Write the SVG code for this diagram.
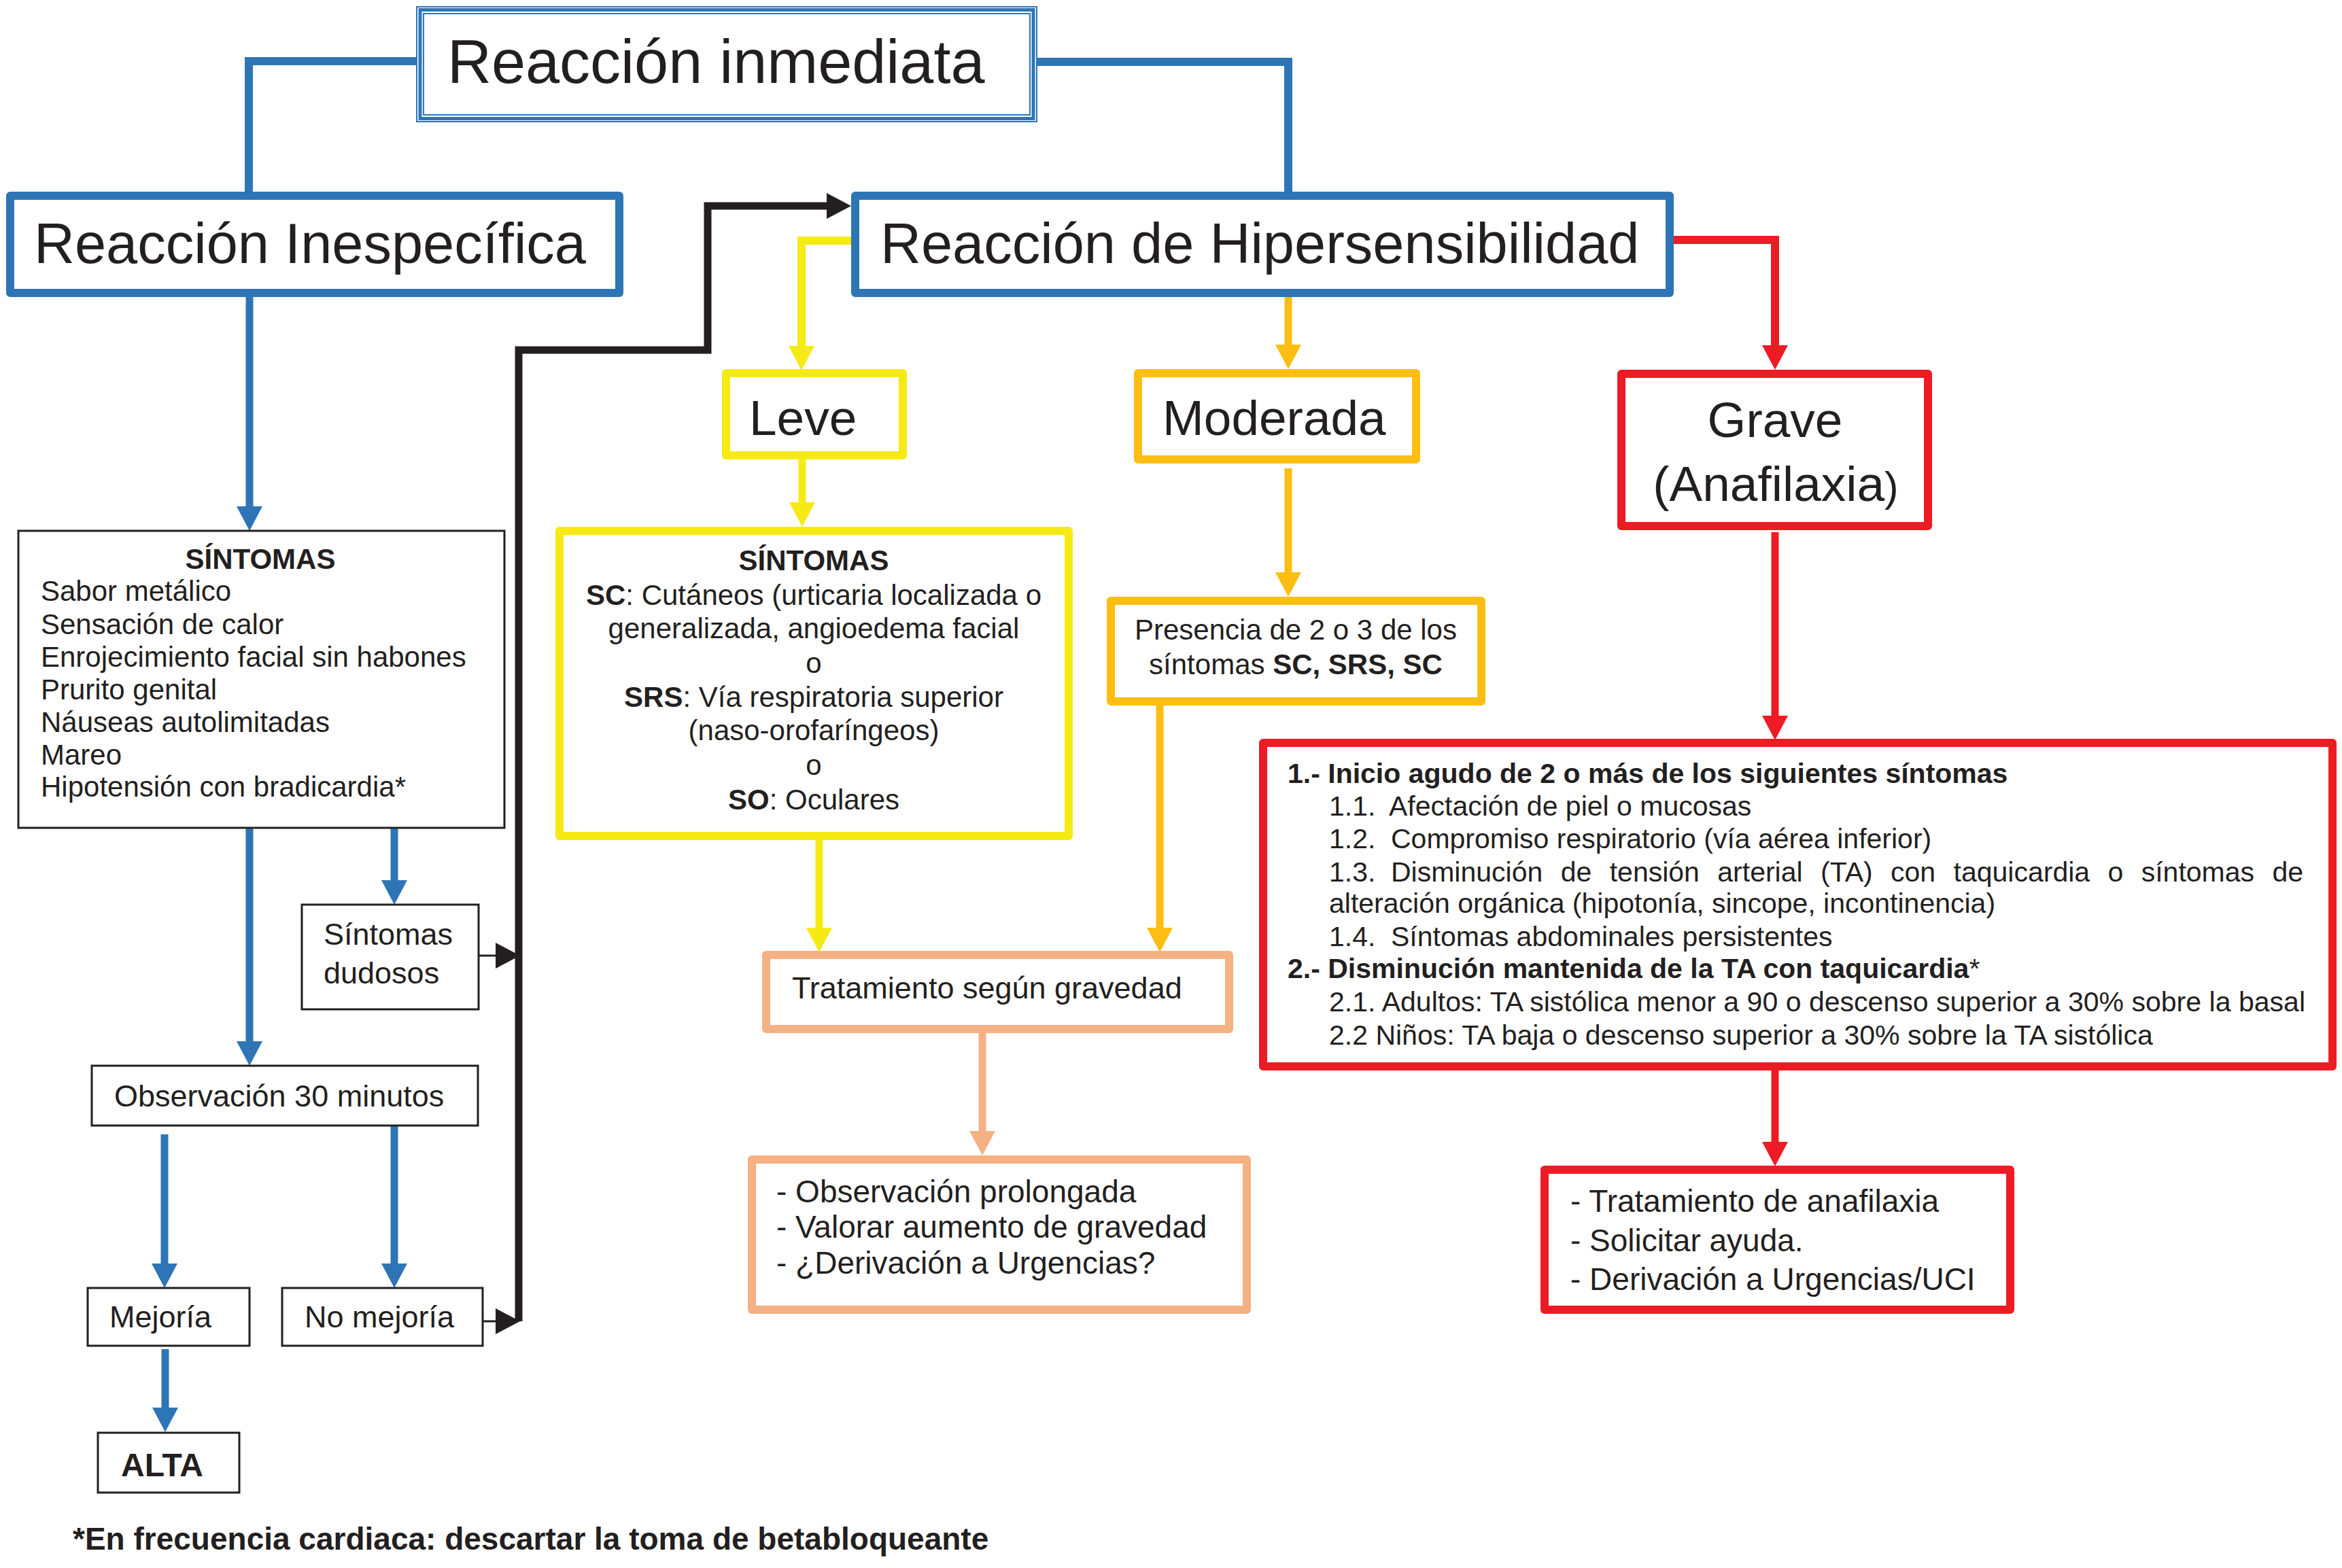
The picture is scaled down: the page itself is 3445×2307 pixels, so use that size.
<svg xmlns="http://www.w3.org/2000/svg" width="3445" height="2307" viewBox="0 0 3445 2307">
<style>
text{font-family:"Liberation Sans",Arial,Helvetica,sans-serif;fill:#231f20}
.b{font-weight:bold}
.box{fill:#fff;stroke-linejoin:round}
.blue{stroke:#2e75b6}
.yel{stroke:#f6ea14}
.amb{stroke:#fdbe14}
.sal{stroke:#f4b183}
.red{stroke:#ed1c24}
.thin{fill:#fff;stroke:#231f20;stroke-width:3}
.c{fill:none;stroke-linejoin:miter}
.t42{font-size:42px}
.t45{font-size:45px}
.t46{font-size:46px}
.t41{font-size:41px}
</style>
<defs>
<marker id="aBlue" markerUnits="userSpaceOnUse" markerWidth="40" markerHeight="40" refX="16" refY="19" orient="auto"><path d="M0,0 L36,19 L0,38 z" fill="#2e75b6"/></marker>
<marker id="aYel" markerUnits="userSpaceOnUse" markerWidth="40" markerHeight="40" refX="16" refY="19" orient="auto"><path d="M0,0 L36,19 L0,38 z" fill="#f6ea14"/></marker>
<marker id="aAmb" markerUnits="userSpaceOnUse" markerWidth="40" markerHeight="40" refX="16" refY="19" orient="auto"><path d="M0,0 L36,19 L0,38 z" fill="#fdbe14"/></marker>
<marker id="aSal" markerUnits="userSpaceOnUse" markerWidth="40" markerHeight="40" refX="16" refY="19" orient="auto"><path d="M0,0 L36,19 L0,38 z" fill="#f4b183"/></marker>
<marker id="aRed" markerUnits="userSpaceOnUse" markerWidth="40" markerHeight="40" refX="16" refY="19" orient="auto"><path d="M0,0 L36,19 L0,38 z" fill="#ed1c24"/></marker>
<marker id="aBlk" markerUnits="userSpaceOnUse" markerWidth="40" markerHeight="40" refX="16" refY="19" orient="auto"><path d="M0,0 L36,19 L0,38 z" fill="#231f20"/></marker>
</defs>
<rect width="3445" height="2307" fill="#fff"/>

<g id="connectors">
  <polyline class="c blue" stroke-width="12" points="612,90 366,90 366,282"/>
  <polyline class="c blue" stroke-width="12" points="1526,91 1895,91 1895,282"/>
  <line class="c blue" stroke-width="11" x1="367" y1="437" x2="367" y2="761" marker-end="url(#aBlue)"/>
  <line class="c blue" stroke-width="11" x1="367" y1="1218" x2="367" y2="1548" marker-end="url(#aBlue)"/>
  <line class="c blue" stroke-width="11" x1="580" y1="1218" x2="580" y2="1311" marker-end="url(#aBlue)"/>
  <line class="c blue" stroke-width="11" x1="242" y1="1669" x2="242" y2="1875" marker-end="url(#aBlue)"/>
  <line class="c blue" stroke-width="11" x1="580" y1="1656" x2="580" y2="1875" marker-end="url(#aBlue)"/>
  <line class="c blue" stroke-width="11" x1="243" y1="1985" x2="243" y2="2087" marker-end="url(#aBlue)"/>
  <polyline class="c" stroke="#231f20" stroke-width="11" points="763,1944 763,515 1041,515 1041,303 1232,303" marker-end="url(#aBlk)"/>
  <line class="c" stroke="#231f20" stroke-width="3" x1="704" y1="1406" x2="745" y2="1406" marker-end="url(#aBlk)"/>
  <line class="c" stroke="#231f20" stroke-width="3" x1="710" y1="1944" x2="745" y2="1944" marker-end="url(#aBlk)"/>
  <polyline class="c yel" stroke-width="12" points="1252,354 1179,354 1179,525" marker-end="url(#aYel)"/>
  <line class="c amb" stroke-width="11" x1="1895" y1="437" x2="1895" y2="523" marker-end="url(#aAmb)"/>
  <polyline class="c red" stroke-width="12" points="2462,353 2611,353 2611,524" marker-end="url(#aRed)"/>
  <line class="c yel" stroke-width="11" x1="1180" y1="676" x2="1180" y2="755" marker-end="url(#aYel)"/>
  <line class="c amb" stroke-width="11" x1="1895" y1="689" x2="1895" y2="858" marker-end="url(#aAmb)"/>
  <line class="c yel" stroke-width="11" x1="1205" y1="1236" x2="1205" y2="1381" marker-end="url(#aYel)"/>
  <line class="c amb" stroke-width="11" x1="1706" y1="1038" x2="1706" y2="1381" marker-end="url(#aAmb)"/>
  <line class="c sal" stroke-width="11" x1="1445" y1="1520" x2="1445" y2="1680" marker-end="url(#aSal)"/>
  <line class="c red" stroke-width="11" x1="2611" y1="783" x2="2611" y2="1069" marker-end="url(#aRed)"/>
  <line class="c red" stroke-width="11" x1="2611" y1="1575" x2="2611" y2="1696" marker-end="url(#aRed)"/>
</g>

<g id="reaccion-inmediata">
  <rect x="613" y="10" width="912" height="169" fill="#fff" stroke="#2e75b6" stroke-width="2"/>
  <rect x="618" y="14.5" width="902" height="160" fill="none" stroke="#2e75b6" stroke-width="5"/>
  <rect x="623" y="20" width="892" height="149" fill="none" stroke="#2e75b6" stroke-width="2"/>
  <text x="658" y="122" font-size="90">Reacción inmediata</text>
</g>

<g id="reaccion-inespecifica">
  <rect class="box blue" stroke-width="12" x="15" y="288" width="896" height="143"/>
  <text x="50" y="387" font-size="83">Reacción Inespecífica</text>
</g>

<g id="reaccion-hipersensibilidad">
  <rect class="box blue" stroke-width="12" x="1258" y="288" width="1198" height="143"/>
  <text x="1295" y="387" font-size="83">Reacción de Hipersensibilidad</text>
</g>

<g id="sintomas-inespecifica">
  <rect class="thin" x="27" y="781" width="715" height="437"/>
  <text class="t42 b" x="383" y="837" text-anchor="middle">SÍNTOMAS</text>
  <text class="t42" x="60" y="884">Sabor metálico</text>
  <text class="t42" x="60" y="933">Sensación de calor</text>
  <text class="t42" x="60" y="981">Enrojecimiento facial sin habones</text>
  <text class="t42" x="60" y="1029">Prurito genital</text>
  <text class="t42" x="60" y="1077">Náuseas autolimitadas</text>
  <text class="t42" x="60" y="1125">Mareo</text>
  <text class="t42" x="60" y="1172">Hipotensión con bradicardia*</text>
</g>

<g id="sintomas-dudosos">
  <rect class="thin" x="444" y="1331" width="260" height="154"/>
  <text class="t45" x="476" y="1390">Síntomas</text>
  <text class="t45" x="476" y="1447">dudosos</text>
</g>

<g id="observacion-30">
  <rect class="thin" x="135" y="1568" width="568" height="88"/>
  <text class="t45" x="168" y="1628">Observación 30 minutos</text>
</g>

<g id="mejoria">
  <rect class="thin" x="129" y="1895" width="238" height="85"/>
  <text class="t45" x="161" y="1953">Mejoría</text>
</g>

<g id="no-mejoria">
  <rect class="thin" x="415" y="1895" width="295" height="85"/>
  <text class="t45" x="448" y="1953">No mejoría</text>
</g>

<g id="alta">
  <rect class="thin" x="144" y="2108" width="208" height="88"/>
  <text class="b" x="178" y="2172" font-size="48">ALTA</text>
</g>

<g id="leve">
  <rect class="box yel" stroke-width="12" x="1068" y="549" width="260" height="121"/>
  <text x="1102" y="640" font-size="73">Leve</text>
</g>

<g id="moderada">
  <rect class="box amb" stroke-width="12" x="1674" y="549" width="409" height="127"/>
  <text x="1710" y="640" font-size="73">Moderada</text>
</g>

<g id="grave">
  <rect class="box red" stroke-width="12" x="2385" y="550" width="451" height="224"/>
  <text x="2611" y="643" font-size="73" text-anchor="middle">Grave</text>
  <text x="2612" y="737" font-size="73" text-anchor="middle">(Anafilaxia<tspan font-size="62">)</tspan></text>
</g>

<g id="sintomas-leve">
  <rect class="box yel" stroke-width="12" x="823" y="781" width="749" height="449"/>
  <text class="t42 b" x="1197" y="839" text-anchor="middle">SÍNTOMAS</text>
  <text class="t42" x="1197" y="890" text-anchor="middle"><tspan class="b">SC</tspan>: Cutáneos (urticaria localizada o</text>
  <text class="t42" x="1197" y="939" text-anchor="middle">generalizada, angioedema facial</text>
  <text class="t42" x="1197" y="990" text-anchor="middle">o</text>
  <text class="t42" x="1197" y="1040" text-anchor="middle"><tspan class="b">SRS</tspan>: Vía respiratoria superior</text>
  <text class="t42" x="1197" y="1089" text-anchor="middle">(naso-orofaríngeos)</text>
  <text class="t42" x="1197" y="1140" text-anchor="middle">o</text>
  <text class="t42" x="1197" y="1191" text-anchor="middle"><tspan class="b">SO</tspan>: Oculares</text>
</g>

<g id="presencia">
  <rect class="box amb" stroke-width="12" x="1634" y="884" width="545" height="148"/>
  <text class="t42" x="1906" y="941" text-anchor="middle">Presencia de 2 o 3 de los</text>
  <text class="t42" x="1906" y="992" text-anchor="middle">síntomas <tspan class="b">SC, SRS, SC</tspan></text>
</g>

<g id="tratamiento-gravedad">
  <rect class="box sal" stroke-width="12" x="1127" y="1405" width="681" height="109"/>
  <text class="t45" x="1165" y="1469">Tratamiento según gravedad</text>
</g>

<g id="observacion-prolongada">
  <rect class="box sal" stroke-width="12" x="1106" y="1706" width="728" height="221"/>
  <text class="t46" x="1142" y="1769">- Observación prolongada</text>
  <text class="t46" x="1142" y="1821">- Valorar aumento de gravedad</text>
  <text class="t46" x="1142" y="1874">- ¿Derivación a Urgencias?</text>
</g>

<g id="criterios-anafilaxia">
  <rect class="box red" stroke-width="12" x="1858" y="1093" width="1573" height="476"/>
  <text class="t41 b" x="1894" y="1152">1.- Inicio agudo de 2 o más de los siguientes síntomas</text>
  <text class="t41" y="1200"><tspan x="1955">1.1.</tspan><tspan x="2043">Afectación de piel o mucosas</tspan></text>
  <text class="t41" y="1248"><tspan x="1955">1.2.</tspan><tspan x="2046">Compromiso respiratorio (vía aérea inferior)</tspan></text>
  <text class="t41" y="1297"><tspan x="1955">1.3.</tspan><tspan x="2046" word-spacing="15">Disminución de tensión arterial (TA) con taquicardia o síntomas de</tspan></text>
  <text class="t41" x="1955" y="1343">alteración orgánica (hipotonía, sincope, incontinencia)</text>
  <text class="t41" y="1392"><tspan x="1955">1.4.</tspan><tspan x="2046">Síntomas abdominales persistentes</tspan></text>
  <text class="t41 b" x="1894" y="1439">2.- Disminución mantenida de la TA con taquicardia<tspan font-weight="normal">*</tspan></text>
  <text class="t41" x="1955" y="1488" textLength="1436">2.1. Adultos: TA sistólica menor a 90 o descenso superior a 30% sobre la basal</text>
  <text class="t41" x="1955" y="1537">2.2 Niños: TA baja o descenso superior a 30% sobre la TA sistólica</text>
</g>

<g id="tratamiento-anafilaxia">
  <rect class="box red" stroke-width="12" x="2272" y="1721" width="685" height="206"/>
  <text class="t46" x="2310" y="1783">- Tratamiento de anafilaxia</text>
  <text class="t46" x="2310" y="1841">- Solicitar ayuda.</text>
  <text class="t46" x="2310" y="1898">- Derivación a Urgencias/UCI</text>
</g>

<g id="nota">
  <text class="b" x="107" y="2280" font-size="46">*En frecuencia cardiaca: descartar la toma de betabloqueante</text>
</g>
</svg>
